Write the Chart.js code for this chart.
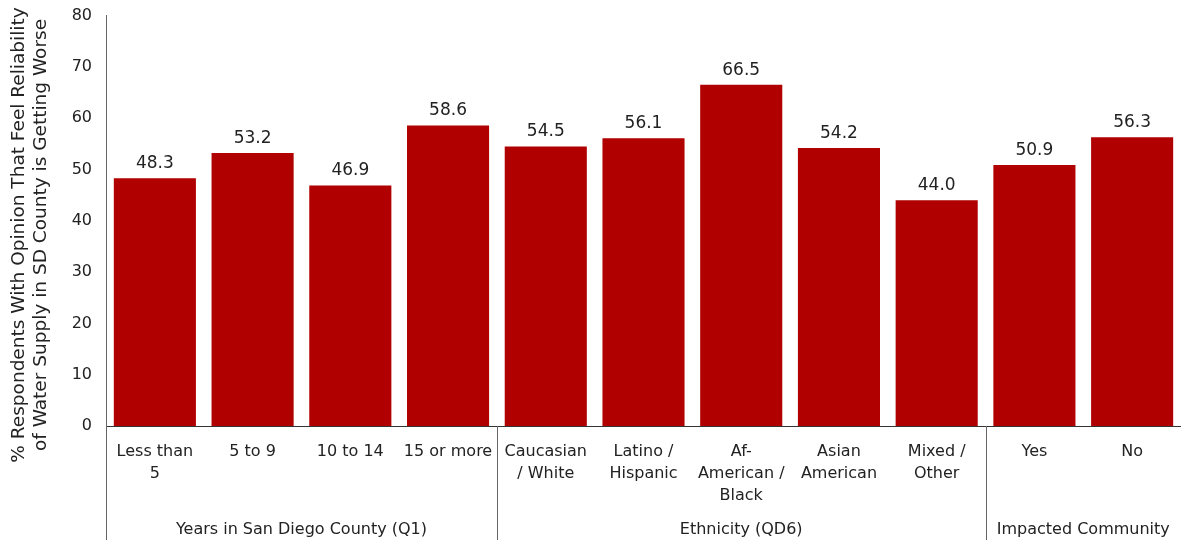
<!DOCTYPE html>
<html lang="en">
<head>
    <meta charset="UTF-8">
    <title>Water Supply Reliability Opinion</title>
    <script src="https://cdn.jsdelivr.net/npm/chart.js"></script>
    <style>
        html, body {
            margin: 0;
            padding: 0;
            background: #fff;
        }
        #wrap {
            width: 1181px;
            height: 540px;
        }
    </style>
</head>
<body>
<div id="wrap"><canvas id="chart"></canvas></div>

<script>
const categories = [
    ['Less than', '5'], '5 to 9', '10 to 14', '15 or more',
    ['Caucasian', '/ White'], ['Latino /', 'Hispanic'], ['Af-', 'American /', 'Black'],
    ['Asian', 'American'], ['Mixed /', 'Other'],
    'Yes', 'No'
];
const values = [48.3, 53.2, 46.9, 58.6, 54.5, 56.1, 66.5, 54.2, 44.0, 50.9, 56.3];
const groups = ['Years in San Diego County (Q1)', 'Ethnicity (QD6)', 'Impacted Community'];
const groupSizes = [4, 5, 2];
const yTitle = ['% Respondents With Opinion That Feel Reliability', 'of Water Supply in SD County is Getting Worse'];

const FONT = '"DejaVu Sans", Verdana, sans-serif';
const barColor = '#b00000';

// value labels, group labels, separators, y title
const extras = {
    id: 'extras',
    afterDatasetsDraw(chart) {
        const ctx = chart.ctx;
        const x = chart.scales.x;
        const area = chart.chartArea;
        const meta = chart.getDatasetMeta(0);

        ctx.save();
        ctx.fillStyle = '#222';
        ctx.font = '17px ' + FONT;
        ctx.textAlign = 'center';
        ctx.textBaseline = 'bottom';
        meta.data.forEach((bar, i) => {
            ctx.fillText(values[i].toFixed(1), bar.x, bar.y - 6);
        });

        // separators and group names
        ctx.strokeStyle = '#666';
        ctx.lineWidth = 1;
        ctx.font = '16px ' + FONT;
        ctx.textBaseline = 'middle';
        let start = 0;
        const bounds = [area.left];
        groupSizes.forEach((n, g) => {
            const end = start + n - 1;
            const left = start === 0 ? area.left : (x.getPixelForValue(start - 1) + x.getPixelForValue(start)) / 2;
            const right = end === values.length - 1 ? area.right : (x.getPixelForValue(end) + x.getPixelForValue(end + 1)) / 2;
            if (end < values.length - 1) bounds.push(right);
            ctx.fillText(groups[g], (left + right) / 2, 530);
            start += n;
        });
        bounds.forEach(b => {
            const px = Math.round(b) + 0.5;
            ctx.beginPath();
            ctx.moveTo(px, area.bottom);
            ctx.lineTo(px, chart.height);
            ctx.stroke();
        });

        // y axis title
        ctx.translate(30, 235);
        ctx.rotate(-Math.PI / 2);
        ctx.font = '18.5px ' + FONT;
        ctx.fillStyle = '#222';
        ctx.fillText(yTitle[0], 0, -11);
        ctx.fillText(yTitle[1], 0, 11);
        ctx.restore();
    }
};

new Chart(document.getElementById('chart'), {
    type: 'bar',
    data: {
        labels: categories,
        datasets: [{
            data: values,
            backgroundColor: barColor,
            categoryPercentage: 1,
            barPercentage: 0.84
        }]
    },
    options: {
        responsive: true,
        maintainAspectRatio: false,
        animation: false,
        layout: { padding: { top: 12, right: 0, left: 0, bottom: 0 } },
        plugins: {
            legend: { display: false },
            tooltip: { enabled: false }
        },
        scales: {
            y: {
                min: 0,
                max: 80,
                ticks: {
                    stepSize: 10,
                    color: '#222',
                    padding: 6,
                    font: { family: FONT, size: 16 }
                },
                grid: { display: false },
                border: { display: true, color: '#666', width: 1 },
                afterFit(scale) { scale.width = 106; }
            },
            x: {
                ticks: {
                    color: '#222',
                    padding: 7,
                    maxRotation: 0,
                    autoSkip: false,
                    font: { family: FONT, size: 16, lineHeight: 1.375 }
                },
                grid: { display: false },
                border: { display: true, color: '#333', width: 1 },
                afterFit(scale) { scale.height = 114; }
            }
        }
    },
    plugins: [extras]
});
</script>
</body>
</html>
